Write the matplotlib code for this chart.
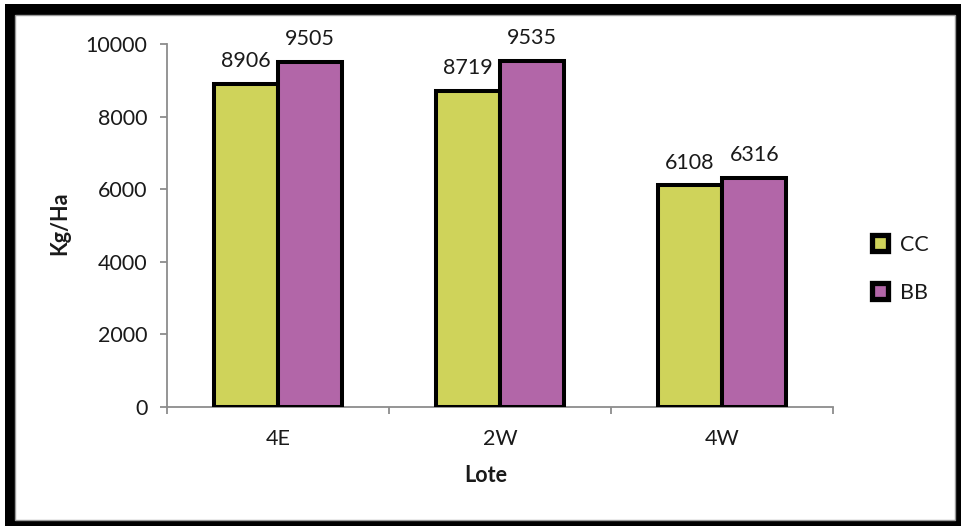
import matplotlib
matplotlib.use("Agg")
import matplotlib.pyplot as plt
from matplotlib.patches import Rectangle
from matplotlib.lines import Line2D
import numpy as np

# Yield per lot (Kg/Ha) for the two treatments
lotes = ["4E", "2W", "4W"]
cc_values = [8906, 8719, 6108]
bb_values = [9505, 9535, 6316]
series_names = ["CC", "BB"]
yticks = [0, 2000, 4000, 6000, 8000, 10000]

W, H = 961, 526
DPI = 100
FS = 15.5
plt.rcParams["font.family"] = ["Lato", "DejaVu Sans"]

fig = plt.figure(figsize=(W / DPI, H / DPI), dpi=DPI)
fig.patch.set_facecolor("white")

def px_rect(x0, y0, x1, y1, **kw):
    """Rectangle given in pixel coordinates measured from the top-left corner."""
    return Rectangle((x0 / W, 1 - y1 / H), (x1 - x0) / W, (y1 - y0) / H,
                     transform=fig.transFigure, **kw)

# Thick black frame with a thin grey inner line (kept behind the axes)
fig.patches.append(px_rect(5, 4, W, H, facecolor="black", edgecolor="none", zorder=-3))
fig.patches.append(px_rect(15, 15, 955, 520, facecolor="white", edgecolor="#9a9a9a",
                           linewidth=1.0, zorder=-2))

ax_l, ax_r, ax_t, ax_b = 167, 833, 44, 407
ax = fig.add_axes([ax_l / W, 1 - ax_b / H, (ax_r - ax_l) / W, (ax_b - ax_t) / H])
ax.set_facecolor("none")

cc_color = "#cfd35a"
bb_color = "#b266a8"
x = np.arange(len(lotes))
bw = 0.29
edge_lw = 2.9

bars_cc = ax.bar(x - bw / 2, cc_values, width=bw, color=cc_color,
                 edgecolor="black", linewidth=edge_lw, zorder=3)
bars_bb = ax.bar(x + bw / 2, bb_values, width=bw, color=bb_color,
                 edgecolor="black", linewidth=edge_lw, zorder=3)

for bars, vals in ((bars_cc, cc_values), (bars_bb, bb_values)):
    for b, v in zip(bars, vals):
        ax.annotate(f"{v}", (b.get_x() + b.get_width() / 2, v),
                    xytext=(0, 9), textcoords="offset points",
                    ha="center", va="bottom", fontsize=FS, color="#1a1a1a")

ax.set_xlim(-0.5, len(lotes) - 0.5)
ax.set_ylim(0, 10000)
ax.set_yticks(yticks)
ax.set_yticklabels([str(t) for t in yticks])

ax.set_xticks(x)
ax.set_xticklabels(lotes)
ax.set_xticks(np.arange(len(lotes) + 1) - 0.5, minor=True)

spine_c = "#8c8c8c"
for s in ("top", "right"):
    ax.spines[s].set_visible(False)
for s in ("left", "bottom"):
    ax.spines[s].set_color(spine_c)
    ax.spines[s].set_linewidth(1.3)

ax.tick_params(axis="y", direction="out", length=5, width=1.3, color=spine_c,
               labelsize=FS, labelcolor="#1a1a1a", pad=9)
ax.tick_params(axis="x", which="major", length=0, labelsize=FS,
               labelcolor="#1a1a1a", pad=16)
ax.tick_params(axis="x", which="minor", direction="out", length=5, width=1.3,
               color=spine_c)

fig.text(486 / W, 1 - 476 / H, "Lote", ha="center", va="center",
         fontsize=FS, fontweight="bold", color="#1a1a1a")
fig.text(60 / W, 1 - 223 / H, "Kg/Ha", ha="center", va="center", rotation=90,
         fontsize=FS, fontweight="bold", color="#1a1a1a")

handles = [Line2D([], [], linestyle="none", marker="s", markersize=11,
                  markerfacecolor=c, markeredgecolor="black", markeredgewidth=3.8)
           for c in (cc_color, bb_color)]
fig.legend(handles, series_names, loc="center left",
           bbox_to_anchor=(858 / W, 1 - 269 / H), frameon=False,
           fontsize=FS, handlelength=1.0, handletextpad=0.45,
           labelspacing=1.3, borderpad=0, labelcolor="#1a1a1a")

fig.savefig("out.png", dpi=DPI, facecolor="white")
